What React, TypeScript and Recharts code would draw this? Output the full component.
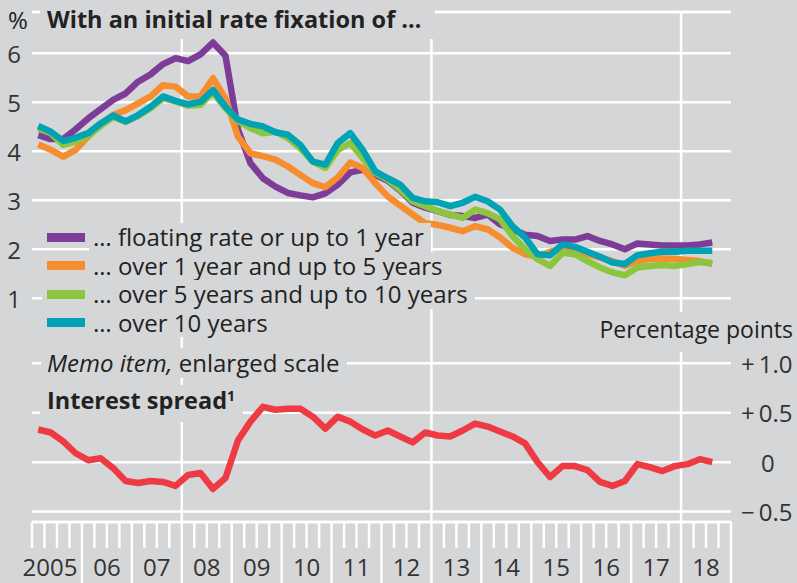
import React from 'react';
import { LineChart, Line, XAxis, YAxis, CartesianGrid, ReferenceLine } from 'recharts';

const quarters = [
  '2005 Q1', '2005 Q2', '2005 Q3', '2005 Q4',
  '2006 Q1', '2006 Q2', '2006 Q3', '2006 Q4',
  '2007 Q1', '2007 Q2', '2007 Q3', '2007 Q4',
  '2008 Q1', '2008 Q2', '2008 Q3', '2008 Q4',
  '2009 Q1', '2009 Q2', '2009 Q3', '2009 Q4',
  '2010 Q1', '2010 Q2', '2010 Q3', '2010 Q4',
  '2011 Q1', '2011 Q2', '2011 Q3', '2011 Q4',
  '2012 Q1', '2012 Q2', '2012 Q3', '2012 Q4',
  '2013 Q1', '2013 Q2', '2013 Q3', '2013 Q4',
  '2014 Q1', '2014 Q2', '2014 Q3', '2014 Q4',
  '2015 Q1', '2015 Q2', '2015 Q3', '2015 Q4',
  '2016 Q1', '2016 Q2', '2016 Q3', '2016 Q4',
  '2017 Q1', '2017 Q2', '2017 Q3', '2017 Q4',
  '2018 Q1', '2018 Q2', '2018 Q3',
];

const floating = [
  4.33, 4.25, 4.25, 4.45, 4.67, 4.86, 5.05, 5.18, 5.42, 5.57, 5.78, 5.90, 5.84, 5.98, 6.22, 5.95,
  4.45, 3.76, 3.45, 3.28, 3.15, 3.10, 3.06, 3.14, 3.32, 3.57, 3.62, 3.52, 3.40, 3.20, 2.95, 2.85,
  2.78, 2.70, 2.68, 2.64, 2.71, 2.51, 2.41, 2.30, 2.27, 2.17, 2.20, 2.20, 2.27, 2.17, 2.10, 2.00,
  2.12, 2.10, 2.08, 2.08, 2.08, 2.10, 2.14,
];
const over1to5 = [
  4.14, 4.03, 3.89, 4.03, 4.30, 4.54, 4.74, 4.84, 4.98, 5.12, 5.35, 5.32, 5.12, 5.12, 5.49, 5.08,
  4.30, 3.96, 3.90, 3.83, 3.69, 3.52, 3.35, 3.27, 3.47, 3.77, 3.66, 3.35, 3.08, 2.89, 2.71, 2.53,
  2.50, 2.44, 2.37, 2.47, 2.41, 2.24, 2.03, 1.90, 1.85, 1.95, 2.00, 1.97, 1.90, 1.83, 1.76, 1.66,
  1.76, 1.80, 1.81, 1.80, 1.78, 1.76, 1.70,
];
const over5to10 = [
  4.47, 4.37, 4.13, 4.20, 4.32, 4.52, 4.70, 4.60, 4.72, 4.88, 5.08, 5.02, 4.93, 4.95, 5.20, 4.88,
  4.62, 4.47, 4.37, 4.40, 4.27, 4.06, 3.79, 3.66, 4.03, 4.17, 3.86, 3.56, 3.42, 3.22, 2.98, 2.88,
  2.78, 2.71, 2.64, 2.81, 2.74, 2.61, 2.27, 2.00, 1.80, 1.66, 1.93, 1.90, 1.76, 1.63, 1.53, 1.47,
  1.63, 1.66, 1.68, 1.66, 1.70, 1.74, 1.72,
];
const over10 = [
  4.52, 4.40, 4.21, 4.28, 4.37, 4.57, 4.73, 4.61, 4.74, 4.91, 5.12, 5.03, 4.96, 5.01, 5.25, 4.91,
  4.65, 4.56, 4.51, 4.39, 4.34, 4.13, 3.79, 3.73, 4.17, 4.37, 4.03, 3.59, 3.45, 3.32, 3.05, 2.98,
  2.96, 2.88, 2.95, 3.07, 2.98, 2.81, 2.47, 2.24, 1.90, 1.88, 2.10, 2.05, 1.95, 1.85, 1.73, 1.70,
  1.88, 1.92, 1.95, 1.95, 1.97, 1.97, 1.97,
];
const spread = [
  0.33, 0.30, 0.21, 0.09, 0.02, 0.04, -0.06, -0.19, -0.21, -0.19, -0.20, -0.24, -0.13, -0.11, -0.27, -0.16,
  0.22, 0.41, 0.56, 0.53, 0.54, 0.54, 0.46, 0.34, 0.46, 0.41, 0.33, 0.27, 0.32, 0.26, 0.20, 0.30,
  0.27, 0.26, 0.32, 0.39, 0.36, 0.31, 0.26, 0.19, 0.00, -0.15, -0.04, -0.04, -0.08, -0.20, -0.24, -0.19,
  -0.02, -0.05, -0.09, -0.04, -0.02, 0.03, 0.00,
];

const yearLabels = ['2005', '06', '07', '08', '09', '10', '11', '12', '13', '14', '15', '16', '17', '18'];
const firstYear = 2005;
const gridYears = [2008, 2013, 2018];
const rateTicks = [1, 2, 3, 4, 5, 6];
const spreadTicks = [-0.5, 0, 0.5, 1.0];
const spreadTickLabels = ['\u2212\u20090.5', '0', '+\u20090.5', '+\u20091.0'];

const PURPLE = '#7d3c98';
const ORANGE = '#f68d2e';
const GREEN = '#8cc63f';
const TEAL = '#00a3b4';
const RED = '#ee3a43';
const BG = '#d5d6d8';
const TEXT = '#222';
const FONT = '"Open Sans", "Noto Sans", sans-serif';
const FS = 24;

const legendItems = [
  { label: '\u2026 floating rate or up to 1 year', color: PURPLE },
  { label: '\u2026 over 1 year and up to 5 years', color: ORANGE },
  { label: '\u2026 over 5 years and up to 10 years', color: GREEN },
  { label: '\u2026 over 10 years', color: TEAL },
];

const data = quarters.map((q, i) => {
  const yr = parseInt(q.slice(0, 4), 10);
  const qn = parseInt(q.slice(6), 10);
  return {
    t: yr + (qn - 1) / 4 + 0.125,
    floating: floating[i],
    over1to5: over1to5[i],
    over5to10: over5to10[i],
    over10: over10[i],
    spread: spread[i],
  };
});

const xTicks: number[] = [];
yearLabels.forEach((_, k) => {
  [0, 0.25, 0.5, 0.75].forEach((f) => xTicks.push(firstYear + k + f));
});
xTicks.push(firstYear + yearLabels.length);

const XTick = (props: any) => {
  const { x, y, payload } = props;
  const v = payload.value as number;
  const frac = Math.round((v - Math.floor(v)) * 4);
  const isYear = frac === 0;
  const isFirst = v === firstYear;
  const len = isYear && !isFirst ? 62 : 26;
  let label = null;
  if (frac === 2) {
    const idx = Math.floor(v) - firstYear;
    label = (
      <text x={x} y={y + 54} dx={idx === 0 ? -7 : 0} textAnchor="middle" fontFamily={FONT} fontSize={FS} fill="#333">
        {yearLabels[idx]}
      </text>
    );
  }
  return (
    <g>
      <line x1={x} x2={x} y1={y} y2={y + len} stroke="#fff" strokeWidth={2.5} />
      {label}
    </g>
  );
};

const LeftTick = (props: any) => {
  const { x, y, payload } = props;
  return (
    <text x={x} y={y} textAnchor="middle" dominantBaseline="central" fontFamily={FONT} fontSize={FS} fill="#333">
      {payload.value}
    </text>
  );
};

const RightTick = (props: any) => {
  const { x, y, payload } = props;
  const idx = spreadTicks.indexOf(payload.value);
  return (
    <text x={x} y={y} dx={payload.value === 0 ? 20 : 0} textAnchor="start" dominantBaseline="central" fontFamily={FONT} fontSize={FS} fill="#333">
      {spreadTickLabels[idx]}
    </text>
  );
};

const textBase: React.CSSProperties = {
  position: 'absolute',
  fontFamily: FONT,
  fontSize: FS,
  color: TEXT,
  whiteSpace: 'nowrap',
  background: BG,
};

export default function App() {
  return (
    <div style={{ position: 'fixed', left: 0, top: 0, width: 797, height: 583, background: BG, overflow: 'hidden' }}>
      <LineChart width={797} height={583} data={data} margin={{ top: 12, right: 0, bottom: 0, left: 0 }}>
        <CartesianGrid yAxisId="left" vertical={false} stroke="#fff" strokeWidth={2.5} />
        <CartesianGrid yAxisId="right" vertical={false} stroke="#fff" strokeWidth={2.5} />
        {gridYears.map((g) => (
          <ReferenceLine key={g} x={g} yAxisId="left" stroke="#fff" strokeWidth={2.5} />
        ))}
        <XAxis
          dataKey="t"
          type="number"
          domain={[firstYear, firstYear + yearLabels.length]}
          ticks={xTicks}
          interval={0}
          height={61}
          tickSize={0}
          tickMargin={0}
          axisLine={false}
          tickLine={false}
          tick={<XTick />}
          allowDataOverflow
        />
        <YAxis
          yAxisId="left"
          type="number"
          domain={[-3.565, 6.843]}
          ticks={rateTicks}
          width={32}
          tickSize={0}
          tickMargin={18}
          axisLine={false}
          tickLine={false}
          tick={<LeftTick />}
          allowDataOverflow
        />
        <YAxis
          yAxisId="right"
          orientation="right"
          type="number"
          domain={[-0.605, 4.552]}
          ticks={spreadTicks}
          width={66}
          tickSize={0}
          tickMargin={10}
          axisLine={false}
          tickLine={false}
          tick={<RightTick />}
          allowDataOverflow
        />
        <Line yAxisId="left" type="linear" dataKey="floating" stroke={PURPLE} strokeWidth={6.5} dot={false} strokeLinejoin="round" isAnimationActive={false} />
        <Line yAxisId="left" type="linear" dataKey="over1to5" stroke={ORANGE} strokeWidth={6.5} dot={false} strokeLinejoin="round" isAnimationActive={false} />
        <Line yAxisId="left" type="linear" dataKey="over5to10" stroke={GREEN} strokeWidth={6.5} dot={false} strokeLinejoin="round" isAnimationActive={false} />
        <Line yAxisId="left" type="linear" dataKey="over10" stroke={TEAL} strokeWidth={6.5} dot={false} strokeLinejoin="round" isAnimationActive={false} />
        <Line yAxisId="right" type="linear" dataKey="spread" stroke={RED} strokeWidth={6.5} dot={false} strokeLinejoin="round" isAnimationActive={false} />
      </LineChart>

      <div style={{ ...textBase, left: 8, top: 1, height: 38, lineHeight: '38px', background: 'transparent' }}>%</div>
      <div style={{ ...textBase, left: 40, top: 0, height: 39, lineHeight: '39px', padding: '0 14px 0 7px', fontWeight: 700, fontSize: 23.5 }}>
        With an initial rate fixation of {'\u2026'}
      </div>

      <div style={{ position: 'absolute', left: 42, top: 223 }}>
        {legendItems.map((it) => (
          <div key={it.label} style={{ display: 'flex', alignItems: 'center', height: 28.5 }}>
            <div style={{ background: BG, padding: '4px 4px 4px 5px', display: 'flex', alignItems: 'center' }}>
              <div style={{ width: 38, height: 9, background: it.color }} />
            </div>
            <span
              style={{
                ...textBase,
                position: 'static',
                display: 'inline-block',
                height: 28.5,
                lineHeight: '28.5px',
                overflow: 'visible',
                padding: '0 7px 0 4px',
              }}
            >
              {it.label}
            </span>
          </div>
        ))}
      </div>

      <div style={{ ...textBase, left: 41, top: 348, lineHeight: '30px', padding: '0 8px 0 6px' }}>
        <span style={{ fontStyle: 'italic' }}>Memo item,</span> enlarged scale
      </div>
      <div style={{ ...textBase, left: 40, top: 385, lineHeight: '30px', padding: '0 8px 7px 7px', fontWeight: 700, fontSize: 23.5 }}>
        Interest spread<sup style={{ fontSize: 14, verticalAlign: 'top', lineHeight: '22px' }}>1</sup>
      </div>
      <div style={{ ...textBase, right: 4, top: 312, lineHeight: '35px', padding: '0 0 5px 6px', fontSize: 23 }}>Percentage points</div>
    </div>
  );
}
